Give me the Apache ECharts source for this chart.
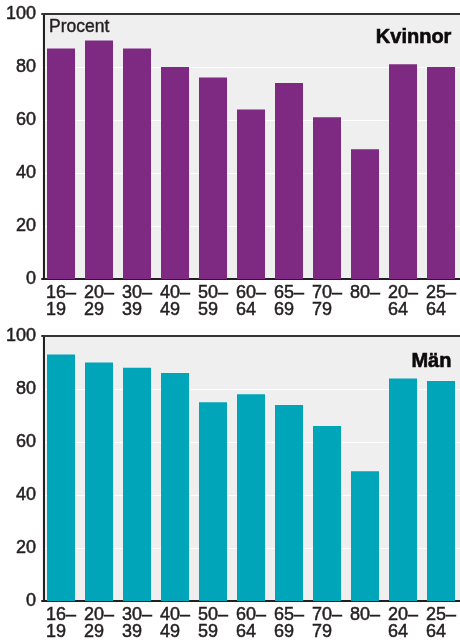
<!DOCTYPE html>
<html>
<head>
<meta charset="utf-8">
<script src="https://cdn.jsdelivr.net/npm/echarts@6/dist/echarts.min.js"></script>
<style>
html,body{margin:0;padding:0;background:#fff;}
#c{width:460px;height:642px;}
</style>
</head>
<body>
<div id="c"></div>
<script>
const categories = ['16–\n19','20–\n29','30–\n39','40–\n49','50–\n59','60–\n64','65–\n69','70–\n79','80–','20–\n64','25–\n64'];
const kvinnor = [87, 90, 87, 80, 76, 64, 74, 61, 49, 81, 80];
const man = [93, 90, 88, 86, 75, 78, 74, 66, 49, 84, 83];
const yMin = 0, yMax = 100, yStep = 20;

const FONT = '"Liberation Sans", Arial, sans-serif';
const TXT = '#231f20';

function catAxis(gi){
  return {
    gridIndex: gi, type: 'category', data: categories, position: 'bottom',
    axisLine: {lineStyle: {color: TXT, width: 2}},
    axisTick: {show: false},
    splitLine: {show: false},
    axisLabel: {
      interval: 0, margin: 5,
      formatter: v => v.split('\n').map(s => '{a|' + s + '}').join('\n'),
      rich: {a: {width: 30, align: 'left', fontSize: 18, lineHeight: 17.5, color: TXT, fontFamily: FONT,
                 textBorderColor: TXT, textBorderWidth: 0.5}}
    }
  };
}
function topAxis(gi){
  return {
    gridIndex: gi, type: 'category', data: categories, position: 'top',
    axisLine: {lineStyle: {color: '#333', width: 2}},
    axisTick: {show: false}, axisLabel: {show: false}, splitLine: {show: false}
  };
}
function valAxis(gi){
  return {
    gridIndex: gi, type: 'value', min: yMin, max: yMax, interval: yStep, offset: -2,
    axisLine: {show: true, lineStyle: {color: TXT, width: 2}},
    axisTick: {show: false},
    axisLabel: {fontSize: 18, color: TXT, fontFamily: FONT, margin: 8, textBorderColor: TXT, textBorderWidth: 0.5},
    splitLine: {lineStyle: {color: '#ffffff', width: 1}}
  };
}

const chart = echarts.init(document.getElementById('c'), null, {renderer: 'canvas'});
chart.setOption({
  animation: false,
  backgroundColor: '#ffffff',
  textStyle: {fontFamily: FONT},
  title: [
    {text: 'Procent', left: 49, top: 18, padding: 0, textStyle: {fontSize: 17.5, fontWeight: 'normal', color: TXT, fontFamily: FONT, textBorderColor: TXT, textBorderWidth: 0.4}},
    {text: 'Kvinnor', right: 8, top: 27, padding: 0, textStyle: {fontSize: 20, fontWeight: 'bold', color: '#0d0a0c', fontFamily: FONT, textBorderColor: '#0d0a0c', textBorderWidth: 0.6}},
    {text: 'Män', right: 8, top: 351, padding: 0, textStyle: {fontSize: 20, fontWeight: 'bold', color: '#0d0a0c', fontFamily: FONT, textBorderColor: '#0d0a0c', textBorderWidth: 0.6}}
  ],
  grid: [
    {left: 42, right: 0, top: 14, height: 265, show: true, backgroundColor: '#efefef', borderWidth: 0},
    {left: 42, right: 0, top: 336, height: 265, show: true, backgroundColor: '#efefef', borderWidth: 0}
  ],
  xAxis: [catAxis(0), topAxis(0), catAxis(1), topAxis(1)],
  yAxis: [valAxis(0), valAxis(1)],
  series: [
    {type: 'bar', xAxisIndex: 0, yAxisIndex: 0, data: kvinnor, barWidth: 28, itemStyle: {color: '#7e2a82'}},
    {type: 'bar', xAxisIndex: 2, yAxisIndex: 1, data: man, barWidth: 28, itemStyle: {color: '#00a5b9'}}
  ]
});
</script>
</body>
</html>
